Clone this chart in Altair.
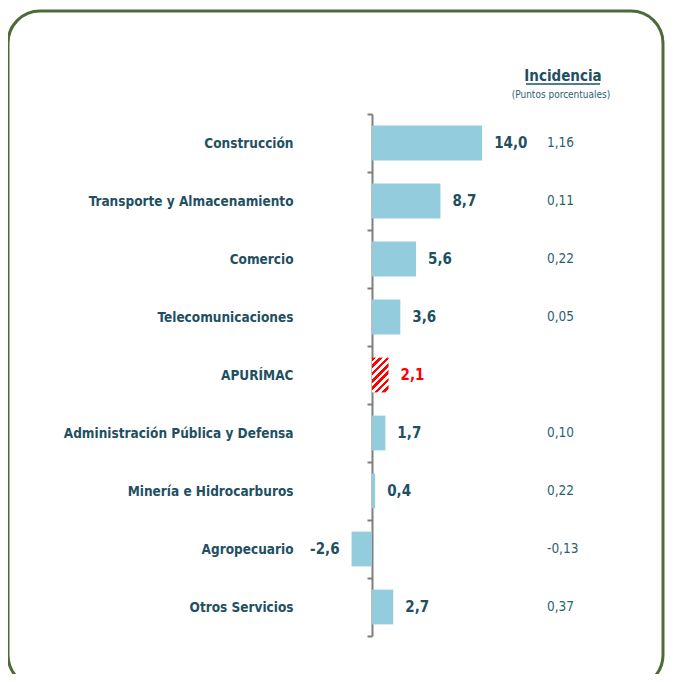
import altair as alt
import pandas as pd

categories = ["Construcción", "Transporte y Almacenamiento", "Comercio", "Telecomunicaciones",
              "APURÍMAC", "Administración Pública y Defensa", "Minería e Hidrocarburos",
              "Agropecuario", "Otros Servicios"]
growth = [14.0, 8.7, 5.6, 3.6, 2.1, 1.7, 0.4, -2.6, 2.7]
incidence = [1.16, 0.11, 0.22, 0.05, None, 0.10, 0.22, -0.13, 0.37]
highlight = "APURÍMAC"
header_title = "Incidencia"
header_sub = "(Puntos porcentuales)"

FONT = "'DejaVu Sans Condensed', 'Liberation Sans Narrow', sans-serif"
DARK = "#1F5062"
MID = "#2B5F70"
BLUE = "#93CDDD"
RED = "#FF0000"
GREEN = "#4E6A38"


def fmt(v, d):
    return f"{v:.{d}f}".replace(".", ",")


df = pd.DataFrame({
    "cat": categories,
    "v": growth,
    "inc": incidence,
})
df["lab"] = [fmt(v, 1) for v in growth]
df["inc_lab"] = [fmt(v, 2) if v is not None else "" for v in incidence]

base = alt.Chart(df)

y_enc = alt.Y("cat:N", sort=categories, title=None,
              scale=alt.Scale(paddingInner=0, paddingOuter=0),
              axis=alt.Axis(orient="left", domainColor="#7F7F7F", domainWidth=2,
                            tickColor="#7F7F7F", tickWidth=2, tickSize=5, tickBand="extent",
                            labelPadding=74, labelFont=FONT, labelFontSize=13.5,
                            labelFontWeight="bold", labelColor=DARK, labelLimit=400))
x_enc = alt.X("v:Q", scale=alt.Scale(domain=[0, 30], nice=False, zero=True), axis=None, title=None)

# stripes for the highlighted bar
n = 7
stops = []
for i in range(n):
    a = i / n
    b = (i + 0.5) / n
    c = (i + 1) / n
    stops += [alt.GradientStop(offset=a, color=RED), alt.GradientStop(offset=b, color=RED),
              alt.GradientStop(offset=b, color="white"), alt.GradientStop(offset=c, color="white")]
hatch = alt.LinearGradient(gradient="linear", stops=stops, x1=0, y1=0, x2=0.57, y2=1.2)

bars = base.transform_filter(alt.datum.cat != highlight).mark_bar(
    color=BLUE, height={"band": 0.6}).encode(y=y_enc, x=x_enc)

hbar = base.transform_filter(alt.datum.cat == highlight).mark_bar(
    color=hatch, height={"band": 0.6}).encode(y=y_enc, x=x_enc)

lab_color = alt.condition(alt.datum.cat == highlight, alt.value(RED), alt.value(DARK))

pos_lab = base.transform_filter(alt.datum.v >= 0).mark_text(
    align="left", baseline="middle", dx=12, font=FONT, fontSize=15, fontWeight="bold").encode(
    y=alt.Y("cat:N", sort=categories), x=x_enc, text="lab:N", color=lab_color)

neg_lab = base.transform_filter(alt.datum.v < 0).mark_text(
    align="right", baseline="middle", dx=-12, font=FONT, fontSize=15, fontWeight="bold").encode(
    y=alt.Y("cat:N", sort=categories), x=x_enc, text="lab:N", color=lab_color)

inc_txt = base.mark_text(align="left", baseline="middle", font=FONT, fontSize=13.5, color=MID).encode(
    y=alt.Y("cat:N", sort=categories), x=alt.value(175), text="inc_lab:N")

hdr = alt.Chart(pd.DataFrame({"t": [header_title]})).mark_text(
    align="center", baseline="alphabetic", font=FONT, fontSize=15, fontWeight="bold", color=DARK).encode(
    x=alt.value(191), y=alt.value(-33), text="t:N")

sub = alt.Chart(pd.DataFrame({"t": [header_sub]})).mark_text(
    align="center", baseline="alphabetic", font=FONT, fontSize=10, color=MID).encode(
    x=alt.value(189), y=alt.value(-16), text="t:N")

underline = alt.Chart(pd.DataFrame({"t": [header_title]})).mark_rule(color=DARK, strokeWidth=1.5).encode(
    x=alt.value(154), x2=alt.value(228), y=alt.value(-30))

border = alt.Chart(pd.DataFrame({"t": ["frame"]})).mark_rect(
    fillOpacity=0, stroke=GREEN, strokeWidth=3, cornerRadius=32).encode(
    x=alt.value(-364), x2=alt.value(291), y=alt.value(-103), y2=alt.value(573))

chart = alt.layer(border, bars, hbar, pos_lab, neg_lab, inc_txt, hdr, sub, underline).properties(
    width=236, height=522,
    background="white",
    autosize=alt.AutoSizeParams(type="none"),
    padding={"left": 364, "top": 106, "right": 57, "bottom": 38},
).configure_view(stroke=None)

chart.save("out.html", embed_options={"renderer": "svg", "actions": False})
